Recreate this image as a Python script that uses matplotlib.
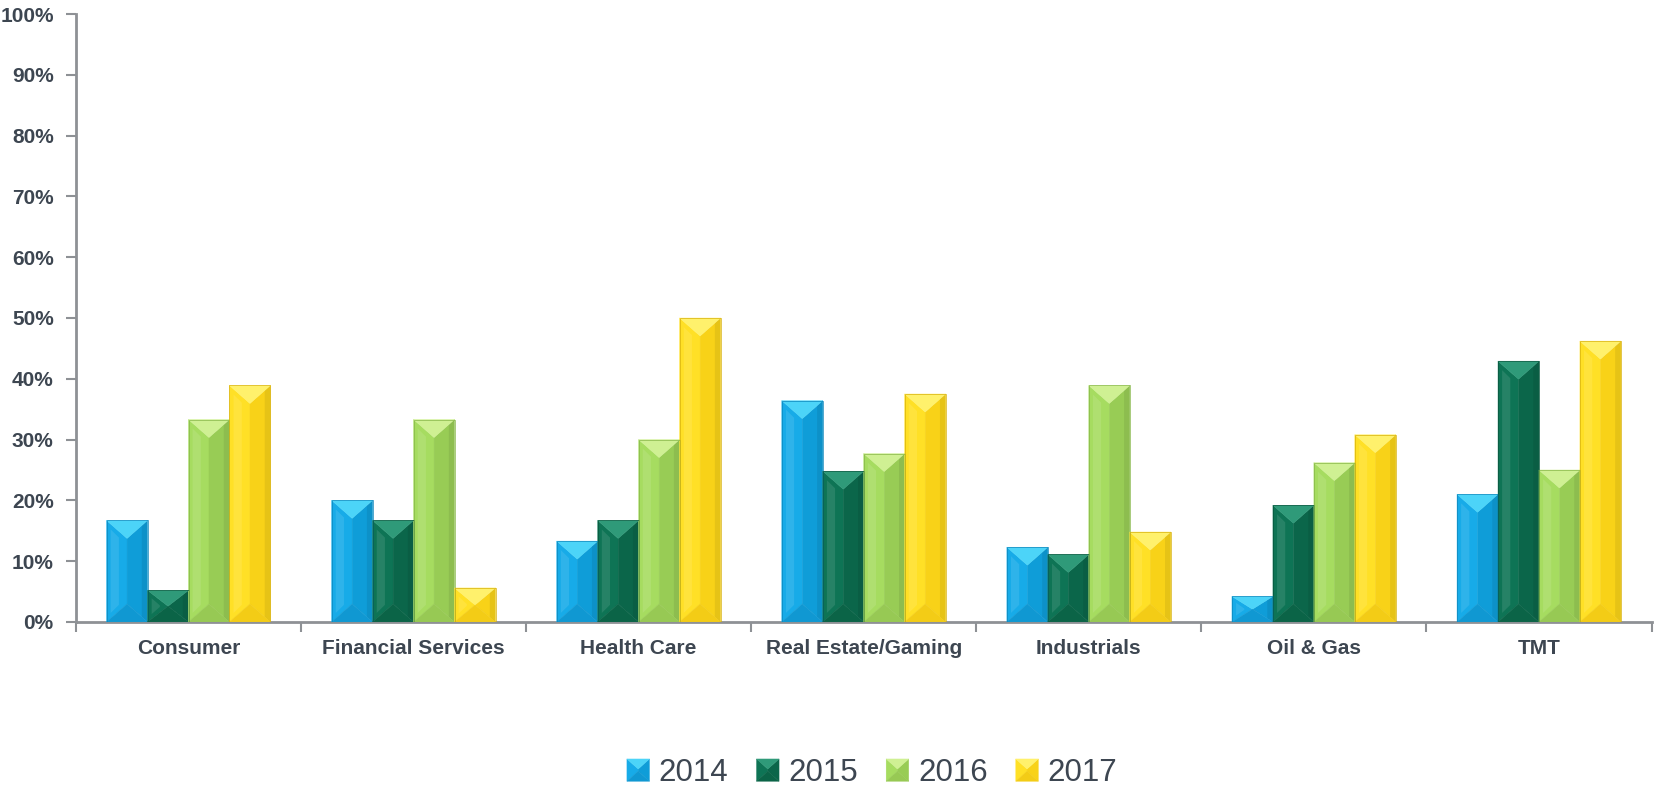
import numpy as np
import matplotlib
matplotlib.use("Agg")
import matplotlib.pyplot as plt
from matplotlib.patches import Polygon
from matplotlib.legend_handler import HandlerBase

# share of deals by sector, per year (%)
sectors = ["Consumer", "Financial Services", "Health Care", "Real Estate/Gaming",
           "Industrials", "Oil & Gas", "TMT"]
years = ["2014", "2015", "2016", "2017"]
v2014 = [16.7, 20.0, 13.3, 36.4, 12.3, 4.2, 21.0]
v2015 = [5.2, 16.7, 16.7, 24.8, 11.1, 19.2, 42.9]
v2016 = [33.3, 33.3, 30.0, 27.7, 38.9, 26.2, 25.0]
v2017 = [38.9, 5.6, 50.0, 37.5, 14.8, 30.8, 46.2]
series = [v2014, v2015, v2016, v2017]

# bevel face colours: left, right, top, bottom, edge
shades = [
    ("#17abe8", "#0f9dd8", "#4cd4f8", "#1098d2", "#0c86bb"),
    ("#0e7455", "#0b664a", "#2f9a79", "#0b6447", "#07553c"),
    ("#a6dc60", "#98cc55", "#cff093", "#97c954", "#86b648"),
    ("#ffe026", "#f8d218", "#fff16c", "#f3cc16", "#d8b10d"),
]

text_col = "#3d4651"
axis_col = "#8e9195"

plt.rcParams["font.family"] = ["Liberation Sans", "DejaVu Sans"]

fig = plt.figure(figsize=(16.55, 7.88), dpi=100)
ax = fig.add_axes([0.0459, 0.2107, 0.952, 0.7715])

x = np.arange(len(sectors))
bw = 0.182
containers = []
for i, vals in enumerate(series):
    bc = ax.bar(x + (i - 1.5) * bw, vals, bw, color=shades[i][0],
                linewidth=0, zorder=2, label=years[i])
    containers.append(bc)

ax.set_xlim(-0.5, len(sectors) - 0.5)
ax.set_ylim(0, 100)

# vertical bevel depth: ~18 px converted to data units
px_per_unit = ax.transData.transform((0, 1))[1] - ax.transData.transform((0, 0))[1]
depth = 18 / px_per_unit


def bevel_faces(x0, x1, y0, y1, d):
    xc = (x0 + x1) / 2
    return [
        [(x0, y1), (xc, y1 - d), (xc, y0 + d), (x0, y0)],   # left
        [(x1, y1), (xc, y1 - d), (xc, y0 + d), (x1, y0)],   # right
        [(x0, y1), (x1, y1), (xc, y1 - d)],                 # top
        [(x0, y0), (x1, y0), (xc, y0 + d)],                 # bottom
    ]


for i, bc in enumerate(containers):
    left, right, top, bottom, edge = shades[i]
    for p in bc.patches:
        x0, w, h = p.get_x(), p.get_width(), p.get_height()
        d = min(depth, h / 2)
        faces = bevel_faces(x0, x0 + w, 0, h, d)
        for pts, c in zip(faces, (left, right, top, bottom)):
            ax.add_patch(Polygon(pts, closed=True, facecolor=c, edgecolor=c,
                                 linewidth=0.3, zorder=3))
        # soft highlight on the left face, darker strip at the right edge
        ax.add_patch(Polygon([(x0 + w * 0.1, h - d * 0.5), (x0 + w * 0.3, h - d * 0.95),
                              (x0 + w * 0.3, d * 0.95), (x0 + w * 0.1, d * 0.5)],
                             closed=True, facecolor="white", alpha=0.10,
                             linewidth=0, zorder=3))
        ax.add_patch(Polygon([(x0 + w * 0.86, h - d * 0.3), (x0 + w, h),
                              (x0 + w, 0), (x0 + w * 0.86, d * 0.3)],
                             closed=True, facecolor="black", alpha=0.07,
                             linewidth=0, zorder=3))
        p.set_facecolor("none")
        p.set_edgecolor(edge)
        p.set_linewidth(0.5)
        p.set_zorder(4)

# axes styling
for s in ("top", "right"):
    ax.spines[s].set_visible(False)
for s in ("left", "bottom"):
    ax.spines[s].set_color(axis_col)
    ax.spines[s].set_linewidth(2)

ax.set_yticks(np.arange(0, 101, 10))
ax.set_yticklabels([f"{t}%" for t in range(0, 101, 10)])
ax.tick_params(axis="y", length=7, width=1.5, color=axis_col, pad=9,
               labelsize=15, labelcolor=text_col)
for lab in ax.get_yticklabels():
    lab.set_fontweight("bold")

ax.set_xticks(np.arange(-0.5, len(sectors)), labels=[""] * (len(sectors) + 1))
ax.tick_params(axis="x", which="major", length=7, width=1.5, color=axis_col)
ax.set_xticks(x, labels=sectors, minor=True)
ax.tick_params(axis="x", which="minor", length=0, pad=12, labelsize=15,
               labelcolor=text_col)
for lab in ax.get_xticklabels(minor=True):
    lab.set_fontweight("bold")


class BevelHandler(HandlerBase):
    def __init__(self, cols):
        super().__init__()
        self.cols = cols

    def create_artists(self, legend, orig_handle, xdescent, ydescent,
                       width, height, fontsize, trans):
        x0, y0 = -xdescent, -ydescent
        d = height * 0.45
        faces = bevel_faces(x0, x0 + width, y0, y0 + height, d)
        arts = []
        for pts, c in zip(faces, self.cols[:4]):
            arts.append(Polygon(pts, closed=True, facecolor=c, edgecolor=c,
                                linewidth=0.3, transform=trans))
        return arts


leg = fig.legend(handles=containers, labels=years, loc="center",
                 bbox_to_anchor=(0.527, 0.019), ncol=4, frameon=False,
                 fontsize=22.5, handlelength=0.72, handleheight=0.72,
                 handletextpad=0.3, columnspacing=0.9,
                 handler_map={bc: BevelHandler(shades[i]) for i, bc in enumerate(containers)})
for t in leg.get_texts():
    t.set_color(text_col)

fig.savefig("out.png", dpi=100, facecolor="white")
